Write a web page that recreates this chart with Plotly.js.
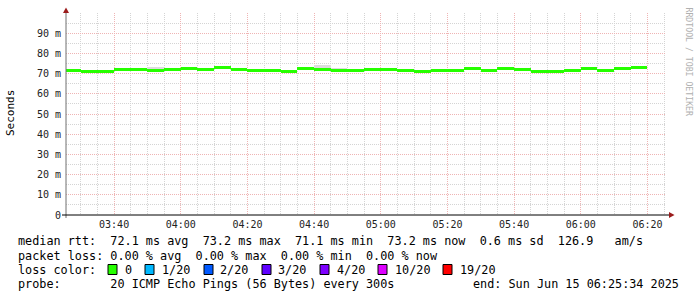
<!DOCTYPE html>
<html><head><meta charset="utf-8">
<script src="https://cdn.plot.ly/plotly-3.0.1.min.js"></script>
<style>html,body{margin:0;padding:0;background:#fff}#chart{width:697px;height:297px}</style>
</head><body><div id="chart"></div>
<script>
// ---- data ----
const medianRtt = [71.6,71.2,71.1,72.0,72.0,71.5,72.0,72.5,72.2,72.8,72.0,71.7,71.7,71.1,72.5,71.8,71.7,71.7,72.2,72.2,71.7,71.1,71.7,71.4,72.5,71.5,72.5,72.2,71.2,71.2,71.7,72.6,71.7,72.5,73.2];
const smokeLow  = [null,null,null,null,null,71.2,null,null,null,72.4,null,null,null,null,null,71.4,71.4,null,null,null,null,null,null,null,null,null,null,null,null,null,null,null,null,null,null];
const smokeHigh = [null,null,null,null,null,73.3,null,null,null,74.0,null,null,null,null,null,74.3,72.8,null,null,null,null,null,null,null,null,null,null,null,null,null,null,null,null,null,null];
const firstStep = '2025-06-15 03:25:00';
const stepSeconds = 300;
const viewStart = '2025-06-15 03:25:34';
const viewEnd = '2025-06-15 06:25:34';
const yTickVals = [0,10,20,30,40,50,60,70,80,90];
const yTickText = ['0','10 m','20 m','30 m','40 m','50 m','60 m','70 m','80 m','90 m'];
const lossLabels = ['0','1/20','2/20','3/20','4/20','10/20','19/20'];
const lossColors = ['#26ff00','#00b8ff','#0059ff','#5e00ff','#7e00ff','#dd00ff','#ff0000'];
const legendLines = [
  'median rtt:  72.1 ms avg  73.2 ms max  71.1 ms min  73.2 ms now  0.6 ms sd  126.9   am/s',
  'packet loss: 0.00 % avg  0.00 % max  0.00 % min  0.00 % now',
  'loss color:',
  'probe:       20 ICMP Echo Pings (56 Bytes) every 300s'
];
const endText = 'end: Sun Jun 15 06:25:34 2025';
const sideText = 'RRDTOOL / TOBI OETIKER';

// ---- geometry ----
const W = 697, H = 297, L = 66, R = 666, T = 13, B = 215;
const px = x => (x - L) / (R - L);
const py = y => (B - y) / (B - T);
const toMs = s => Date.parse(s.replace(' ', 'T') + 'Z');

const t0 = toMs(firstStep);
const stepMs = stepSeconds * 1000;
const segX = medianRtt.map((_, i) => t0 + i * stepMs);
const bandH = 1.5;

const mono = 'DejaVu Sans Mono, Liberation Mono, monospace';
const nb = s => s.replace(/ /g, '\u00a0');

const traces = [
  {type:'bar', x:segX, base:smokeLow, y:smokeHigh.map((h,i)=> h==null?null:h-smokeLow[i]),
   width:stepMs, offset:0, marker:{color:'#dcdcdc', line:{width:0}}, hoverinfo:'skip'},
  {type:'bar', x:segX, base:medianRtt.map(v=>v-bandH/2), y:medianRtt.map(()=>bandH),
   width:stepMs, offset:0, marker:{color:lossColors[0], line:{width:0}}, hoverinfo:'skip'}
];

const lineY = [241.5, 255.5, 269.5, 283.5];
const annotations = [];
legendLines.forEach((t, i) => annotations.push({xref:'paper', yref:'paper', x:px(16), y:py(lineY[i]),
  xanchor:'left', yanchor:'middle', showarrow:false, text:nb(t), font:{family:mono, size:11.8, color:'#000'}}));
annotations.push({xref:'paper', yref:'paper', x:px(681), y:py(lineY[3]), xanchor:'right', yanchor:'middle',
  showarrow:false, text:nb(endText), font:{family:mono, size:11.8, color:'#000'}});
const boxX = [108,145,204,262,320,378,443];
const labX = [123,160,218,276,335,393,458];
const shapes = [];
lossLabels.forEach((lab, i) => {
  annotations.push({xref:'paper', yref:'paper', x:px(labX[i]), y:py(lineY[2]), xanchor:'left', yanchor:'middle',
    showarrow:false, text:nb(lab), font:{family:mono, size:11.8, color:'#000'}});
  shapes.push({type:'rect', xref:'paper', yref:'paper', x0:px(boxX[i]), x1:px(boxX[i]+9),
    y0:py(lineY[2]+5), y1:py(lineY[2]-5), fillcolor:lossColors[i], line:{color:'#000', width:1}});
});
annotations.push({xref:'paper', yref:'paper', x:px(10), y:py(113), xanchor:'center', yanchor:'middle',
  showarrow:false, textangle:-90, text:'Seconds', font:{family:mono, size:11, color:'#000'}});
annotations.push({xref:'paper', yref:'paper', x:px(688), y:py(5), xanchor:'center', yanchor:'top',
  showarrow:false, textangle:90, text:nb(sideText), font:{family:mono, size:8.2, color:'#b0b0b0'}});

// axis lines and arrows
shapes.push({type:'line', xref:'paper', yref:'paper', x0:px(66), x1:px(66), y0:py(12), y1:py(218), line:{color:'#707070', width:1}});
shapes.push({type:'line', xref:'paper', yref:'paper', x0:px(62), x1:px(669), y0:py(215), y1:py(215), line:{color:'#000', width:1}});
shapes.push({type:'path', xref:'paper', yref:'paper',
  path:`M ${px(63)} ${py(13)} L ${px(69)} ${py(13)} L ${px(66)} ${py(7.5)} Z`, fillcolor:'#9b1c1c', line:{width:0}});
shapes.push({type:'path', xref:'paper', yref:'paper',
  path:`M ${px(669)} ${py(212)} L ${px(669)} ${py(218)} L ${px(674.5)} ${py(215)} Z`, fillcolor:'#9b1c1c', line:{width:0}});

const gridMinor = '#d4d4d4', gridMajor = '#efb4b4';
const layout = {
  width:W, height:H, margin:{l:L, r:W-R, t:T, b:H-B, pad:0},
  paper_bgcolor:'#fff', plot_bgcolor:'#fff', showlegend:false, barmode:'overlay', bargap:0,
  xaxis:{type:'date', range:[toMs(viewStart), toMs(viewEnd)], tick0:toMs('2025-06-15 03:40:00'), dtick:20*60000,
    tickformat:'%H:%M', showgrid:true, gridcolor:gridMajor, griddash:'1px,1px', gridwidth:1,
    zeroline:false, showline:false, ticks:'', ticklabelstandoff:2, tickfont:{family:mono, size:10, color:'#222'},
    minor:{tick0:toMs('2025-06-15 03:25:00'), dtick:5*60000, showgrid:true, gridcolor:gridMinor, griddash:'1px,1px', gridwidth:1, ticks:''},
    fixedrange:true},
  yaxis:{range:[0,100], tickmode:'array', tickvals:yTickVals, ticktext:yTickText, showgrid:true, gridcolor:gridMajor,
    griddash:'1px,1px', gridwidth:1, zeroline:false, showline:false, ticks:'', ticklabelstandoff:4,
    tickfont:{family:mono, size:10, color:'#222'},
    minor:{tickmode:'linear', tick0:0, dtick:5, showgrid:true, gridcolor:gridMinor, griddash:'1px,1px', gridwidth:1, ticks:''},
    fixedrange:true},
  annotations, shapes
};
Plotly.newPlot('chart', traces, layout, {displayModeBar:false, staticPlot:true});
</script></body></html>
